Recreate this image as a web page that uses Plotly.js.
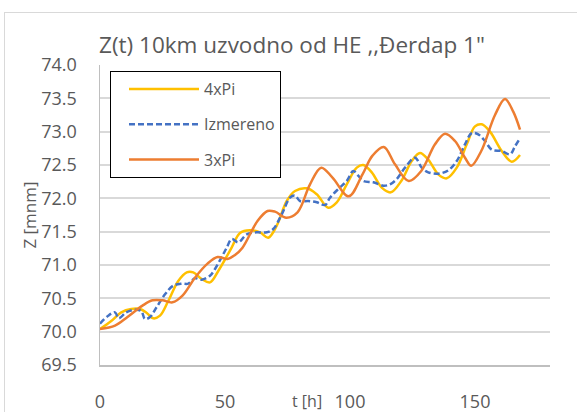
<!DOCTYPE html>
<html>
<head>
<meta charset="utf-8">
<script src="https://cdn.plot.ly/plotly-3.0.1.min.js"></script>
<style>
  html, body { margin: 0; padding: 0; background: #fff; overflow: hidden; }
  #frame { position: absolute; left: 4px; top: 12px; width: 700px; height: 500px; border: 1.5px solid #d9d9d9; }
  #chart { position: absolute; left: 0; top: 0; width: 577px; height: 412px; }
</style>
</head>
<body>
<div id="frame"></div>
<div id="chart"></div>
<script>
// ---- data ----
const t4xPi = [0, 4.5, 8.5, 12.5, 16, 18.7, 21.3, 24, 27.3, 31.3, 34.7, 37.3, 40.7, 44, 47.3, 52.5, 56, 60, 64, 67.3, 70.7, 74.7, 78, 82.7, 86.7, 91.3, 94.7, 98.7, 102.7, 105.3, 108.7, 112.7, 116.3, 120.5, 124.7, 128, 131.3, 135.3, 138.7, 142.7, 146.7, 150, 152.7, 156, 160.7, 164.7, 168];
const z4xPi = [70.04, 70.16, 70.29, 70.34, 70.34, 70.28, 70.2, 70.24, 70.46, 70.76, 70.89, 70.89, 70.79, 70.74, 70.91, 71.25, 71.48, 71.52, 71.49, 71.41, 71.59, 71.96, 72.11, 72.15, 72.06, 71.86, 71.94, 72.21, 72.46, 72.5, 72.39, 72.16, 72.09, 72.26, 72.56, 72.68, 72.58, 72.36, 72.3, 72.46, 72.81, 73.08, 73.11, 73.0, 72.71, 72.55, 72.65];

const tIzmereno = [0, 3.3, 6, 7.5, 10.5, 14, 16.5, 18, 20, 22.7, 26, 29.3, 32.7, 35.3, 38, 40.7, 44, 46, 48.7, 50.7, 52.7, 55.3, 58.7, 62.7, 66.7, 69.3, 72.7, 76, 78, 80, 83.3, 86.7, 90, 92, 95.3, 98.7, 101.3, 103.3, 105.3, 109.3, 113.3, 116, 118.7, 122, 126, 128.7, 131.3, 135.3, 139.3, 142.7, 146, 148.7, 151.3, 154, 156.7, 160.7, 164, 166, 168];
const zIzmereno = [70.12, 70.24, 70.29, 70.2, 70.29, 70.33, 70.31, 70.19, 70.22, 70.37, 70.56, 70.69, 70.72, 70.72, 70.8, 70.78, 70.84, 70.94, 71.12, 71.26, 71.39, 71.34, 71.46, 71.49, 71.49, 71.54, 71.76, 72.01, 72.04, 71.96, 71.96, 71.94, 71.9, 72.01, 72.14, 72.26, 72.41, 72.34, 72.26, 72.24, 72.19, 72.21, 72.29, 72.46, 72.61, 72.46, 72.39, 72.37, 72.42, 72.56, 72.81, 72.98, 72.96, 72.86, 72.73, 72.71, 72.66, 72.78, 72.9];

const t3xPi = [0, 6, 11, 17, 21, 25, 29, 33, 38, 43, 47, 51, 54, 57, 63, 67, 70, 74.5, 79, 84, 88.5, 93, 99.5, 105, 109, 113.5, 118, 123.5, 128.5, 134, 138, 142, 146, 148.5, 152.5, 158, 162, 165.3, 168];
const z3xPi = [70.04, 70.09, 70.22, 70.39, 70.47, 70.47, 70.44, 70.54, 70.81, 71.02, 71.12, 71.09, 71.15, 71.26, 71.66, 71.81, 71.8, 71.71, 71.79, 72.21, 72.46, 72.31, 72.03, 72.36, 72.64, 72.77, 72.51, 72.26, 72.41, 72.81, 72.97, 72.86, 72.61, 72.49, 72.71, 73.25, 73.49, 73.3, 73.03];

const seriesNames = ['4xPi', 'Izmereno', '3xPi'];
const xTickVals = [0, 50, 100, 150];
const yTickVals = [69.5, 70.0, 70.5, 71.0, 71.5, 72.0, 72.5, 73.0, 73.5, 74.0];

const FONT = '"Open Sans", "DejaVu Sans", sans-serif';
const GREY = '#595959';

const traces = [
  { x: t4xPi, y: z4xPi, name: seriesNames[0], legendgroup: 'a', mode: 'lines',
    line: { color: '#FFC000', width: 2.5, shape: 'spline', smoothing: 1 } },
  { x: tIzmereno, y: zIzmereno, name: seriesNames[1], legendgroup: 'b', mode: 'lines',
    line: { color: '#4472C4', width: 2.5, dash: '6px,3px', shape: 'spline', smoothing: 1 } },
  { x: t3xPi, y: z3xPi, name: seriesNames[2], legendgroup: 'c', mode: 'lines',
    line: { color: '#ED7D31', width: 2.5, shape: 'spline', smoothing: 1 } }
];

const layout = {
  width: 577, height: 412,
  margin: { l: 100, r: 27, t: 65, b: 47 },
  paper_bgcolor: 'rgba(0,0,0,0)',
  plot_bgcolor: '#ffffff',
  font: { family: FONT, color: GREY, size: 16 },
  title: {
    text: 'Z(t) 10km uzvodno od HE ,,Đerdap 1"',
    font: { family: FONT, size: 22.5, color: GREY },
    xref: 'container', x: 292 / 577, xanchor: 'center',
    yref: 'container', y: 1 - 45 / 412, yanchor: 'middle'
  },
  xaxis: {
    range: [0, 180], tickvals: xTickVals, ticktext: xTickVals.map(String),
    showgrid: false, zeroline: false,
    showline: true, linecolor: '#bfbfbf', linewidth: 1.5,
    ticks: 'outside', ticklen: 20, tickcolor: 'rgba(0,0,0,0)',
    tickfont: { family: FONT, size: 18, color: GREY }
  },
  yaxis: {
    range: [69.5, 74.0], tickvals: yTickVals, ticktext: yTickVals.map(v => v.toFixed(1)),
    showgrid: true, gridcolor: '#d9d9d9', gridwidth: 2, zeroline: false,
    showline: true, linecolor: '#bfbfbf', linewidth: 1.5,
    ticks: 'outside', ticklen: 18, tickcolor: 'rgba(0,0,0,0)',
    tickfont: { family: FONT, size: 18, color: GREY },
    title: { text: 'Z [mnm]', font: { family: FONT, size: 17, color: GREY }, standoff: 0 }
  },
  showlegend: true,
  legend: {
    x: 10 / 450, y: (365 - 71) / 300, xanchor: 'left', yanchor: 'top',
    bgcolor: '#ffffff', bordercolor: '#000000', borderwidth: 1,
    font: { family: FONT, size: 16, color: GREY },
    itemwidth: 83, tracegroupgap: 11.5, traceorder: 'grouped',
    entrywidth: 189, entrywidthmode: 'pixels'
  },
  annotations: [
    { text: 't [h]', xref: 'paper', yref: 'paper', x: (307 - 100) / 450, y: (365 - 400.5) / 300,
      xanchor: 'center', yanchor: 'middle', showarrow: false,
      font: { family: FONT, size: 16, color: GREY } }
  ]
};

Plotly.newPlot('chart', traces, layout, { displayModeBar: false, staticPlot: true }).then(function () {
  document.querySelectorAll('#chart .legend .js-line').forEach(function (p) {
    p.setAttribute('d', 'M18,0h70');
  });
});
</script>
</body>
</html>
